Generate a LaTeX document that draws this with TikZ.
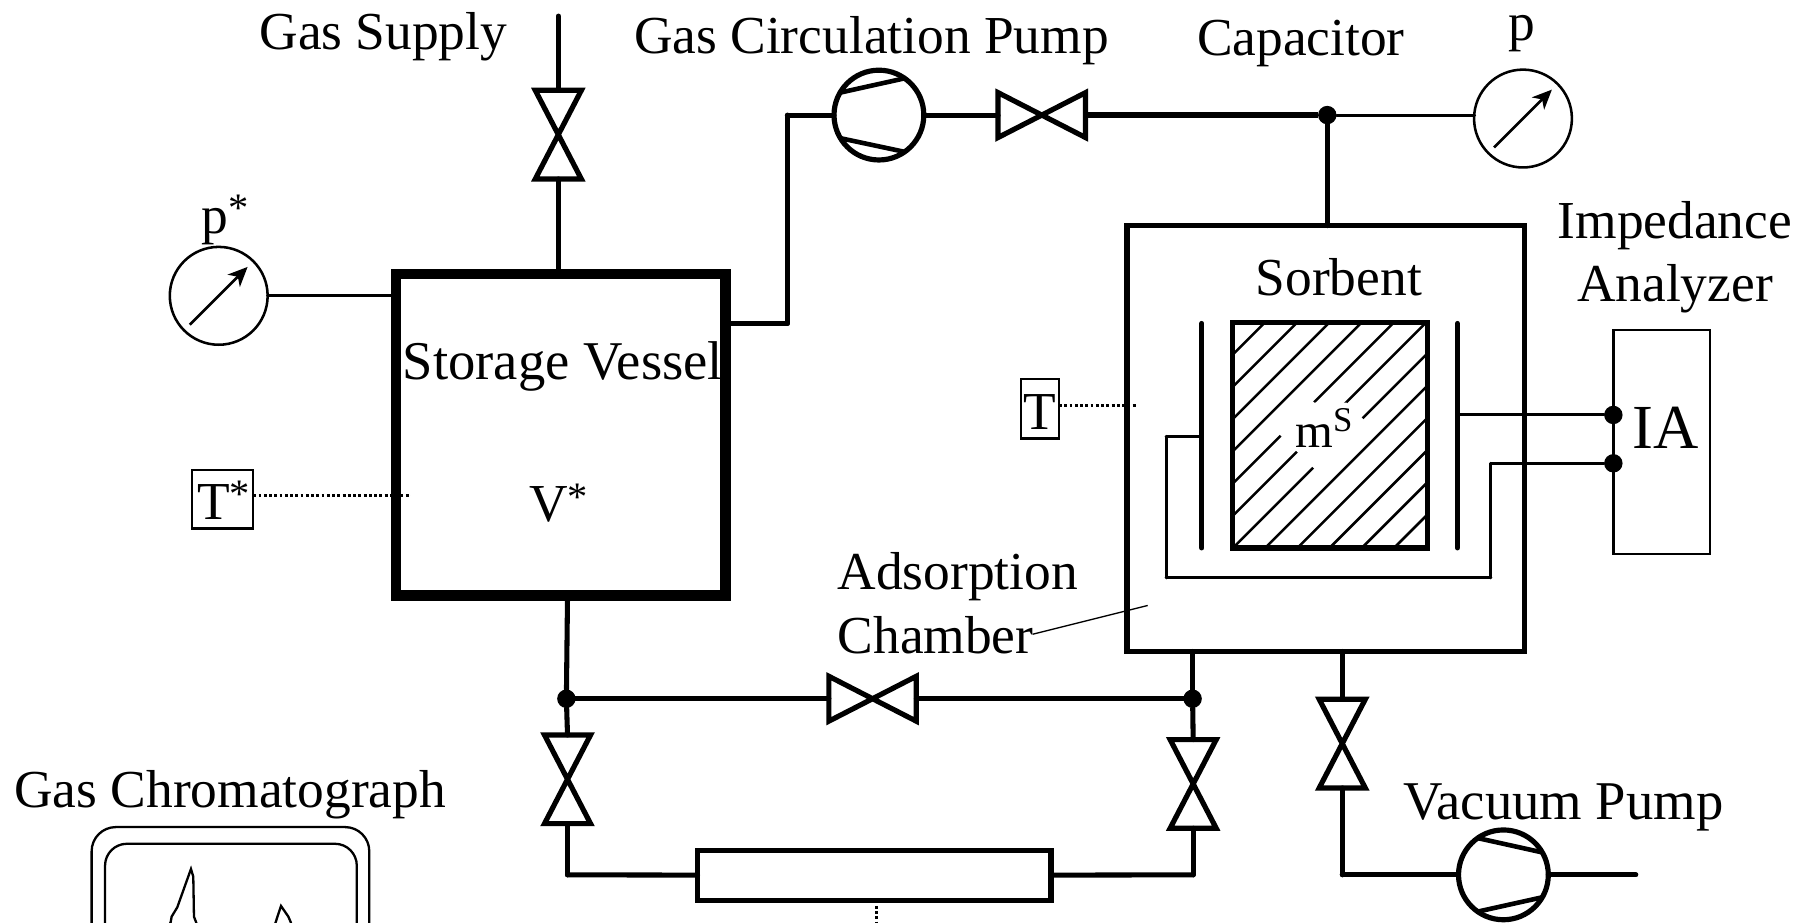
\documentclass[tikz,border=0pt]{standalone}
\usepackage{fontspec}
\setmainfont{Liberation Serif}
\usepackage{tkz-graph}
\usetikzlibrary{arrows.meta,%
	calc}

\newcommand{\supStar}{\raisebox{2.8pt}{\fontsize{10}{10}\selectfont *}}

\tikzset{
	labelText/.style = {font=\fontsize{13.2}{15.6}\selectfont, inner sep=0pt, align=center},
	wideText/.style = {labelText, font=\fontsize{13.5}{15.6}\selectfont},
	vesselBox/.style = {draw, line width=0.093cm, inner sep=0pt, outer sep=0pt},
	chamberBox/.style = {draw, line width=0.045cm, inner sep=0pt, outer sep=0pt},
	thinBox/.style = {draw, line width=0.02cm, inner sep=0pt, outer sep=0pt},
	gaugeCirc/.style = {shape=circle, draw, line width=0.022cm, minimum size=0.85cm, inner sep=0pt, outer sep=0pt},
	pumpCirc/.style = {shape=circle, draw, line width=0.045cm, minimum size=0.78cm, inner sep=0pt, outer sep=0pt},
	pumpBlade/.style = {line width=0.04cm},
	gaugeArrow/.style = {-{Stealth[length=0.17cm,width=0.15cm,inset=0.05cm]}, line width=0.024cm, shorten <=0.07cm, shorten >=0.07cm},
	hatchLine/.style = {line width=0.022cm},
	traceLine/.style = {line width=0.02cm},
	valveLine/.style = {line width=0.045cm, line join=miter},
	valveV/.pic = {
		\draw[valveLine] (-0.2,0.385) -- (0.2,0.385) -- (-0.2,-0.385) -- (0.2,-0.385) -- cycle;
		\coordinate (-top) at (0,0.385);
		\coordinate (-bot) at (0,-0.385);
	},
	valveH/.pic = {
		\draw[valveLine] (-0.38,0.195) -- (-0.38,-0.195) -- (0.38,0.195) -- (0.38,-0.195) -- cycle;
		\coordinate (-left) at (-0.38,0);
		\coordinate (-right) at (0.38,0);
	}
}

\begin{document}
\begin{tikzpicture}

		\useasboundingbox (0,0) rectangle (15.68,8.01);
		\clip (0,0) rectangle (15.68,8.01);

		\SetGraphUnit{1}
		\GraphInit[vstyle=Classic]
		\SetVertexNoLabel

		%boxes
		\node[vesselBox, minimum width=2.865cm, minimum height=2.794cm] (storageVessel) at (4.8725,4.233) {};
		\node[chamberBox, minimum width=3.45cm, minimum height=3.70cm] (adsorbChamber) at (11.515,4.20) {};
		\node[chamberBox, minimum width=3.07cm, minimum height=0.44cm] (columnBox) at (7.595,0.405) {};
		\node[thinBox, minimum width=0.84cm, minimum height=1.946cm] (iaBox) at (14.435,4.17) {};
		\node[thinBox, minimum width=0.535cm, minimum height=0.507cm] (tStarBox) at (1.933,3.673) {};
		\node[thinBox, minimum width=0.33cm, minimum height=0.52cm] (tBox) at (9.035,4.46) {};

		%gauges
		\node[gaugeCirc] (gaugeStar) at (1.90,5.44) {};
		\node[gaugeCirc] (gaugeCap) at (13.23,6.98) {};
		\draw[gaugeArrow] (gaugeStar.225) -- (gaugeStar.45);
		\draw[gaugeArrow] (gaugeCap.225) -- (gaugeCap.45);

		%pumps
		\node[pumpCirc] (pumpGas) at (7.635,7.01) {};
		\draw[pumpBlade] (pumpGas.150) -- (pumpGas.55);
		\draw[pumpBlade] (pumpGas.211) -- (pumpGas.305);
		\node[pumpCirc] (pumpVac) at (13.06,0.41) {};
		\draw[pumpBlade] (pumpVac.125) -- (pumpVac.30);
		\draw[pumpBlade] (pumpVac.235) -- (pumpVac.330);

		%valves
		\pic (valveGas) at (4.85,6.84) {valveV};
		\pic (valveLeft) at (4.93,1.24) {valveV};
		\pic (valveRight) at (10.365,1.20) {valveV};
		\pic (valveVac) at (11.66,1.55) {valveV};
		\pic (valveFlow) at (9.05,7.01) {valveH};
		\pic (valveBypass) at (7.58,1.94) {valveH};

		%sample
		\begin{scope}
			\clip (10.71,3.25) rectangle (12.40,5.21);
			\foreach \k in {-5,...,6}
				\draw[hatchLine] ({9.71-0.28*\k},2.25) -- ++(3,3);
		\end{scope}
		\fill[white] (11.098,4.252) -- (11.387,4.542) -- (11.417,4.512) -- (11.698,4.512) -- (11.865,4.346) -- (11.438,3.917) -- (11.273,4.081) -- cycle;
		\node[chamberBox, minimum width=1.69cm, minimum height=1.96cm] (sampleBox) at (11.555,4.23) {};

		%junctions
		\tikzset{VertexStyle/.style =
				{shape=circle, fill=black, minimum size = 0.16cm,inner sep=0pt}
		}
		\Vertex[x=11.53,y=7.01]{dotCap}
		\Vertex[x=4.92,y=1.94]{dotLeft}
		\Vertex[x=10.36,y=1.94]{dotRight}
		\Vertex[x=14.015,y=4.405]{dotUpper}
		\Vertex[x=14.015,y=3.985]{dotLower}

		%corners
		\tikzset{VertexStyle/.style =
				{shape=circle, fill=black, minimum size = 0pt,inner sep=0pt}
		}
		\Vertex[x=4.85,y=7.87]{supplyEnd}
		\Vertex[x=4.85,y=5.64]{vesselTop}
		\Vertex[x=3.45,y=5.44]{vesselLeft}
		\Vertex[x=6.35,y=5.20]{vesselRight}
		\Vertex[x=6.84,y=5.20]{riseLow}
		\Vertex[x=6.84,y=7.01]{riseHigh}
		\Vertex[x=11.53,y=6.05]{chamberTop}
		\Vertex[x=12.81,y=7.01]{gaugeCapEdge}
		\Vertex[x=4.93,y=2.83]{vesselBot}
		\Vertex[x=10.36,y=2.35]{chamberBotL}
		\Vertex[x=11.66,y=2.35]{chamberBotR}
		\Vertex[x=4.93,y=0.41]{cornerL}
		\Vertex[x=10.365,y=0.41]{cornerR}
		\Vertex[x=11.66,y=0.41]{cornerV}
		\Vertex[x=14.21,y=0.41]{vacEnd}
		\Vertex[x=10.44,y=5.20]{plateLTop}
		\Vertex[x=10.44,y=3.25]{plateLBot}
		\Vertex[x=12.66,y=5.20]{plateRTop}
		\Vertex[x=12.66,y=3.25]{plateRBot}
		\Vertex[x=10.44,y=4.22]{wireA}
		\Vertex[x=10.13,y=4.22]{wireB}
		\Vertex[x=10.13,y=2.99]{wireC}
		\Vertex[x=12.95,y=2.99]{wireD}
		\Vertex[x=12.95,y=3.985]{wireE}
		\Vertex[x=12.66,y=4.405]{wireF}
		\Vertex[x=8.97,y=2.50]{leaderStart}
		\Vertex[x=9.97,y=2.75]{leaderEnd}
		\Vertex[x=2.20,y=3.704]{tStarStart}
		\Vertex[x=3.57,y=3.704]{tStarEnd}
		\Vertex[x=9.20,y=4.49]{tStart}
		\Vertex[x=9.87,y=4.49]{tEnd}
		\Vertex[x=7.615,y=0.14]{columnDot}
		\Vertex[x=7.615,y=-0.10]{columnDotEnd}

		%pipes
		\tikzstyle{EdgeStyle}=[color=black, line width=0.044cm, line cap=round]
		\Edge(supplyEnd)(valveGas-top)
		\Edge(valveGas-bot)(vesselTop)
		\Edge(vesselRight)(riseLow)
		\Edge(riseLow)(riseHigh)
		\Edge(riseHigh)(pumpGas)
		\Edge(pumpGas)(valveFlow-left)
		\Edge(dotCap)(chamberTop)
		\Edge(vesselBot)(dotLeft)
		\Edge(dotLeft)(valveBypass-left)
		\Edge(valveBypass-right)(dotRight)
		\Edge(chamberBotL)(dotRight)
		\Edge(dotLeft)(valveLeft-top)
		\Edge(dotRight)(valveRight-top)
		\Edge(valveLeft-bot)(cornerL)
		\Edge(cornerL)(columnBox)
		\Edge(columnBox)(cornerR)
		\Edge(cornerR)(valveRight-bot)
		\Edge(chamberBotR)(valveVac-top)
		\Edge(valveVac-bot)(cornerV)
		\Edge(cornerV)(pumpVac)
		\Edge(pumpVac)(vacEnd)
		\Edge(plateLTop)(plateLBot)
		\Edge(plateRTop)(plateRBot)

		%flow
		\tikzstyle{EdgeStyle}=[color=black, line width=0.055cm]
		\Edge(valveFlow-right)(dotCap)

		%wires
		\tikzstyle{EdgeStyle}=[color=black, line width=0.026cm, line cap=round]
		\Edge(gaugeStar)(vesselLeft)
		\Edge(dotCap)(gaugeCapEdge)
		\Edge(wireA)(wireB)
		\Edge(wireB)(wireC)
		\Edge(wireC)(wireD)
		\Edge(wireD)(wireE)
		\Edge(wireE)(dotLower)
		\Edge(wireF)(dotUpper)

		%leader
		\tikzstyle{EdgeStyle}=[color=black, line width=0.012cm]
		\Edge(leaderStart)(leaderEnd)

		%probes
		\tikzstyle{EdgeStyle}=[color=black, line width=0.025cm, dash pattern=on 0.7pt off 0.6pt]
		\Edge(tStarStart)(tStarEnd)
		\Edge(tStart)(tEnd)
		\Edge(columnDot)(columnDotEnd)

		%chromatograph
		\node[thinBox, rounded corners=0.21cm, minimum width=2.412cm, minimum height=1.825cm] (chromOuter) at (2.002,-0.0875) {};
		\node[thinBox, rounded corners=0.19cm, minimum width=2.187cm, minimum height=1.68cm] (chromInner) at (2.006,-0.16) {};
		\draw[traceLine] (1.46,-0.05) -- (1.483,0) -- (1.491,0.047) -- (1.54,0.128) -- (1.659,0.461) -- (1.679,0.394) -- (1.685,0.047) -- (1.703,0) -- (1.72,-0.05);
		\draw[traceLine] (2.38,-0.05) -- (2.395,0) -- (2.441,0.14) -- (2.505,0.047) -- (2.525,0) -- (2.54,-0.05);

		%labels
		\node[labelText] (supplyLabel) at (3.33,7.69) {Gas Supply};
		\node[labelText] (circLabel) at (7.57,7.66) {Gas Circulation Pump};
		\node[labelText] (capLabel) at (11.30,7.63) {Capacitor};
		\node[labelText] (pLabel) at (13.22,7.72) {p};
		\node[labelText, anchor=base] (pStarLabel) at (1.958,5.983) {p\supStar};
		\node[labelText] (impLabel) at (14.55,5.775) {Impedance\\Analyzer};
		\node[wideText] (vesselLabel) at (4.89,4.83) {Storage Vessel};
		\node[labelText, anchor=base] (vStarLabel) at (4.854,3.478) {V\supStar};
		\node[labelText, anchor=base] (tStarLabel) at (1.943,3.501) {T\supStar};
		\node[labelText, anchor=base] (tLabel) at (9.035,4.28) {T};
		\node[labelText] (sorbLabel) at (11.63,5.60) {Sorbent};
		\node[labelText, font=\fontsize{12}{14}\selectfont, anchor=base] (massLabel) at (11.50,4.124) {m\raisebox{3.9pt}{\fontsize{8.6}{8.6}\selectfont S}};
		\node[labelText, align=left, anchor=west] (adsLabel) at (7.27,2.77) {Adsorption\\Chamber};
		\node[wideText] (vacLabel) at (13.58,1.00) {Vacuum Pump};
		\node[labelText] (chromLabel) at (2.00,1.11) {Gas Chromatograph};
		\node[labelText, font=\fontsize{15.5}{18}\selectfont] (iaLabel) at (14.47,4.29) {IA};
	\end{tikzpicture}
\end{document}
